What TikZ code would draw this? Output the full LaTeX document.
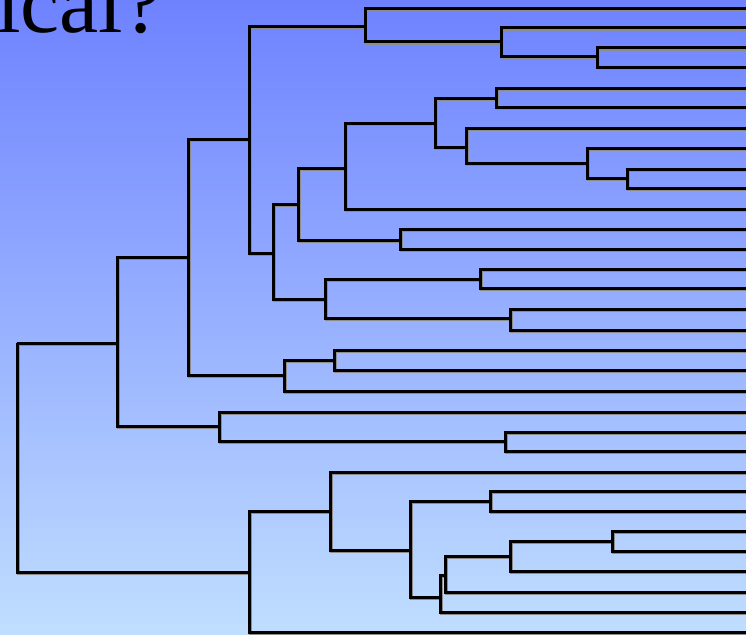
\documentclass[tikz,border=0pt]{standalone}
\usepackage{fontspec}
\setmainfont{Liberation Serif}
\definecolor{skytop}{RGB}{110,130,255}
\definecolor{skybot}{RGB}{192,222,255}

\newcommand\branches{%
    \draw[tree] (r) |- (a) (r) |- (b);
    \draw[tree] (a) |- (c) (a) |- (d);
    \draw[tree] (c) |- (e) (c) |- (f);
    \draw[tree] (e) |- (g) (e) |- (h);
    \draw[tree] (g) |- (l1) (g) |- (i);
    \draw[tree] (i) |- (l2) (i) |- (j);
    \draw[tree] (j) |- (l3) (j) |- (l4);
    \draw[tree] (h) |- (k) (h) |- (m);
    \draw[tree] (k) |- (n) (k) |- (o);
    \draw[tree] (n) |- (p) (n) |- (l11);
    \draw[tree] (p) |- (q) (p) |- (s);
    \draw[tree] (q) |- (l5) (q) |- (l6);
    \draw[tree] (s) |- (l7) (s) |- (t);
    \draw[tree] (t) |- (l8) (t) |- (u);
    \draw[tree] (u) |- (l9) (u) |- (l10);
    \draw[tree] (o) |- (l12) (o) |- (l13);
    \draw[tree] (m) |- (v) (m) |- (w);
    \draw[tree] (v) |- (l14) (v) |- (l15);
    \draw[tree] (w) |- (l16) (w) |- (l17);
    \draw[tree] (f) |- (x) (f) |- (l20);
    \draw[tree] (x) |- (l18) (x) |- (l19);
    \draw[tree] (d) |- (l21) (d) |- (y);
    \draw[tree] (y) |- (l22) (y) |- (l23);
    \draw[tree] (b) |- (z) (b) |- (l32);
    \draw[tree] (z) |- (l24) (z) |- (aa);
    \draw[tree] (aa) |- (ab) (aa) |- (ac);
    \draw[tree] (ab) |- (l25) (ab) |- (l26);
    \draw[tree] (ac) |- (ad) (ac) |- (l31);
    \draw[tree] (ad) |- (ae) (ad) |- (l30);
    \draw[tree] (ae) |- (af) (ae) |- (l29);
    \draw[tree] (af) |- (l27) (af) |- (l28);
}

\begin{document}
\begin{tikzpicture}[x=1pt, y=-1pt,
    branch/.style={draw=black, line width=3pt, line join=miter},
    shadow/.style={draw=black!45, line width=3pt, line join=miter},
    tree/.style=branch
]
    \useasboundingbox (0,0) rectangle (746,634);
    \shade[top color=skytop, bottom color=skybot] (0,0) rectangle (746,634);

    % title, cut by the frame
    \node[anchor=base west, inner sep=0pt, font=\fontsize{88}{96}\selectfont] (title) at (-4,33) {ical?};

    % leaves, running off the right edge
    \foreach \n/\yy in {1/9, 2/28, 3/48, 4/67, 5/88, 6/107, 7/128, 8/148,
        9/169, 10/188, 11/209, 12/229, 13/249, 14/269, 15/288, 16/309,
        17/330, 18/350, 19/370, 20/391, 21/412, 22/432, 23/451, 24/472,
        25/491, 26/511, 27/531, 28/551, 29/571, 30/592, 31/612, 32/632}
        \coordinate (l\n) at (750,\yy);

    % joins
    \coordinate (r) at (17,343);
    \coordinate (a) at (117,343);
    \coordinate (c) at (188,257);
    \coordinate (e) at (249,139);
    \coordinate (g) at (365,27);
    \coordinate (i) at (501,42);
    \coordinate (j) at (597,57);
    \coordinate (h) at (273,253);
    \coordinate (k) at (298,204);
    \coordinate (n) at (345,168);
    \coordinate (p) at (435,123);
    \coordinate (q) at (496,98);
    \coordinate (s) at (466,147);
    \coordinate (t) at (587,163);
    \coordinate (u) at (627,178);
    \coordinate (o) at (400,240);
    \coordinate (m) at (325,299);
    \coordinate (v) at (480,279);
    \coordinate (w) at (510,318);
    \coordinate (f) at (284,375);
    \coordinate (x) at (334,360);
    \coordinate (d) at (219,426);
    \coordinate (y) at (505,441);
    \coordinate (b) at (249,572);
    \coordinate (z) at (330,511);
    \coordinate (aa) at (410,550);
    \coordinate (ab) at (490,501);
    \coordinate (ac) at (440,597);
    \coordinate (ad) at (445,575);
    \coordinate (ae) at (510,556);
    \coordinate (af) at (612,541);

    % grey edge under the black lines
    \begin{scope}[tree/.style=shadow, transform canvas={shift={(1.2pt,-1.2pt)}}]
        \branches
    \end{scope}
    \branches
\end{tikzpicture}
\end{document}
